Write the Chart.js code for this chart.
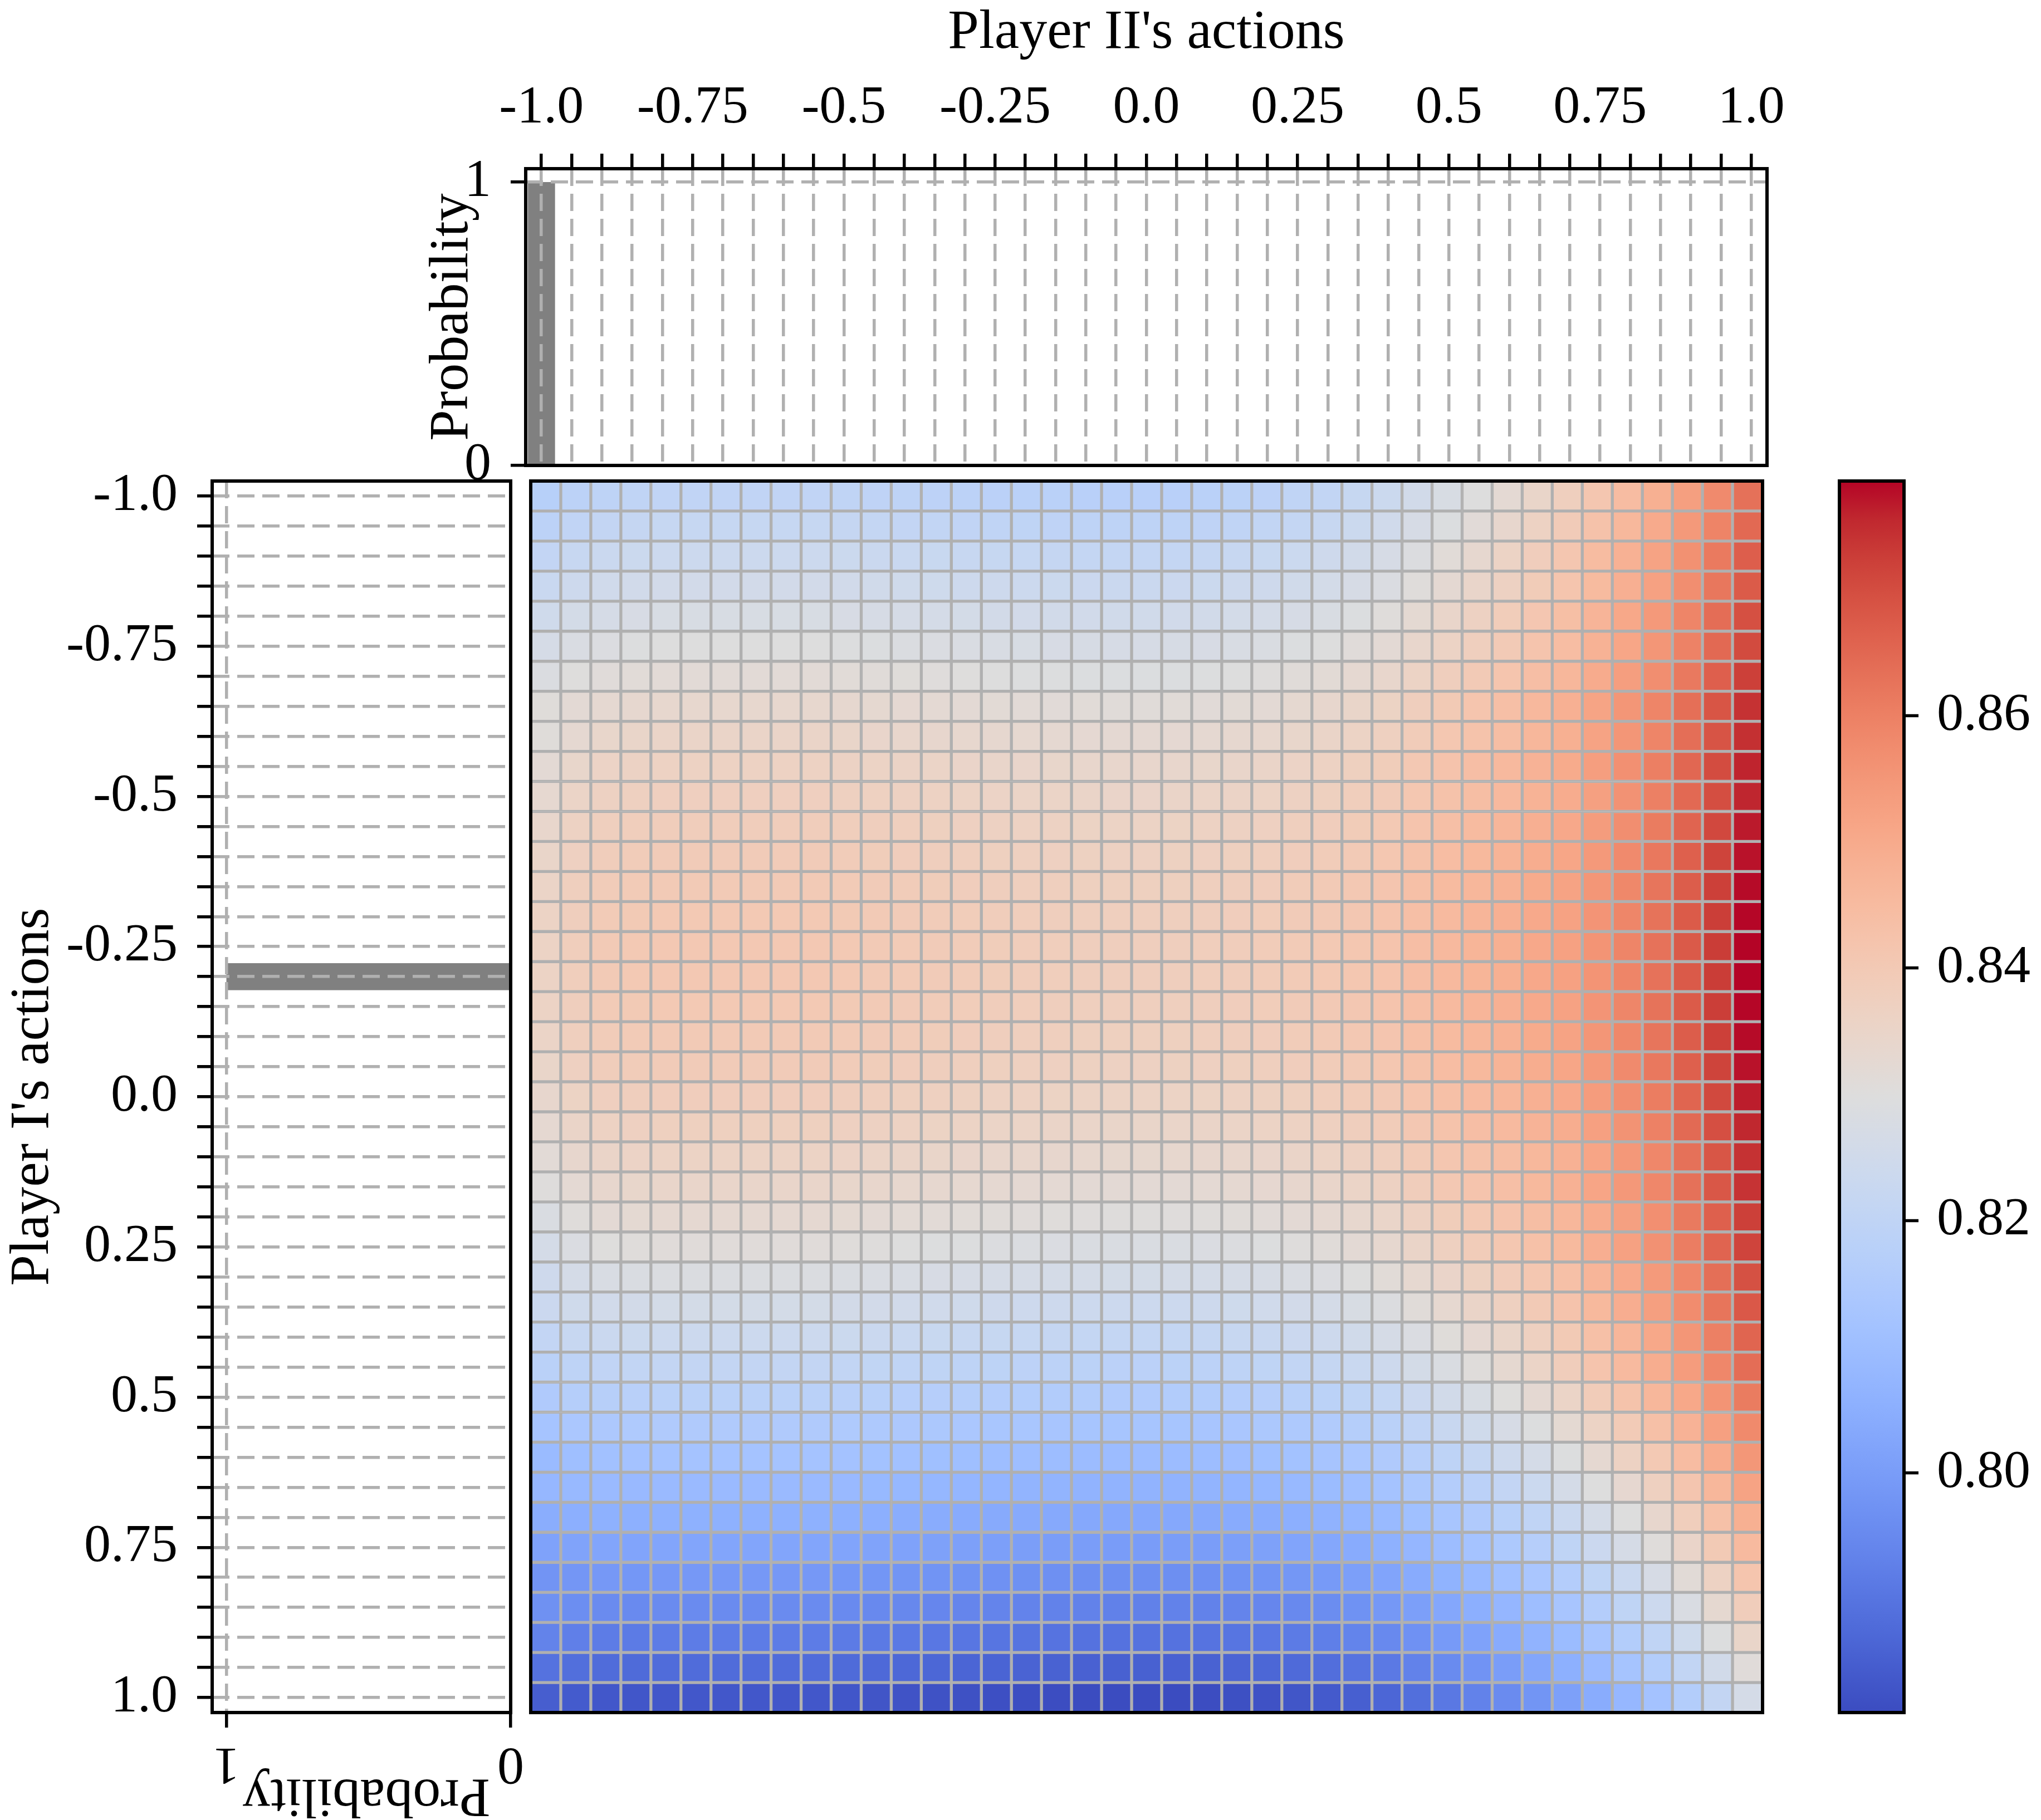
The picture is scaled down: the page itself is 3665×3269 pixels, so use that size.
<!DOCTYPE html>
<html>
<head>
<meta charset="utf-8">
<title>Payoff heatmap with marginal strategies</title>
<script src="https://cdn.jsdelivr.net/npm/chart.js@4.4.1/dist/chart.umd.min.js"></script>
<style>
  html, body { margin: 0; padding: 0; background: #fff; overflow: hidden; }
  #page { position: absolute; left: 0; top: 0; width: 3665px; height: 3269px; background: #fff; }
  .panel { position: absolute; }
  .panel canvas { display: block; }
</style>
</head>
<body>
<div id="page">
<div class="panel" style="left:933px;top:844px;width:2252px;height:2252px"><canvas id="heatChart" width="2252" height="2252"></canvas></div>
<div class="panel" style="left:3280px;top:744px;width:385px;height:2452px"><canvas id="barChart" width="385" height="2452"></canvas></div>
<div class="panel" style="left:0px;top:744px;width:1000px;height:2525px"><canvas id="leftChart" width="1000" height="2525"></canvas></div>
<div class="panel" style="left:700px;top:0px;width:2600px;height:960px"><canvas id="topChart" width="2600" height="960"></canvas></div>
</div>
<script>
// Action grid shared by both players
const actions = [-1.0, -0.95, -0.9, -0.85, -0.8, -0.75, -0.7, -0.65, -0.6, -0.55,
                 -0.5, -0.45, -0.4, -0.35, -0.3, -0.25, -0.2, -0.15, -0.1, -0.05,
                 0.0, 0.05, 0.1, 0.15, 0.2, 0.25, 0.3, 0.35, 0.4, 0.45,
                 0.5, 0.55, 0.6, 0.65, 0.7, 0.75, 0.8, 0.85, 0.9, 0.95, 1.0];
// a label on every fifth action
const actionTickLabels = ['-1.0', '-0.75', '-0.5', '-0.25', '0.0', '0.25', '0.5', '0.75', '1.0'];

// Mixed strategies (probability of each action)
const probPlayerII = [1, 0, 0, 0, 0, 0, 0, 0, 0, 0, 0, 0, 0, 0, 0, 0, 0, 0, 0, 0, 0,
                      0, 0, 0, 0, 0, 0, 0, 0, 0, 0, 0, 0, 0, 0, 0, 0, 0, 0, 0, 0];
const probPlayerI = [0, 0, 0, 0, 0, 0, 0, 0, 0, 0, 0, 0, 0, 0, 0, 0, 1, 0, 0, 0, 0,
                     0, 0, 0, 0, 0, 0, 0, 0, 0, 0, 0, 0, 0, 0, 0, 0, 0, 0, 0, 0];
const probTicks = [0, 1];
const probTickLabels = ['0', '1'];

// Colorbar ticks
const colorbarTicks = [0.80, 0.82, 0.84, 0.86];
const colorbarTickLabels = ['0.80', '0.82', '0.84', '0.86'];

// Payoff: rows = Player I's actions (top to bottom), columns = Player II's actions
const payoff = [
  [0.8174,0.8188,0.8195,0.8200,0.8203,0.8203,0.8203,0.8203,0.8203,0.8203,0.8200,0.8197,0.8194,0.8191,0.8188,0.8185,0.8183,0.8181,0.8179,0.8178,0.8178,0.8179,0.8181,0.8186,0.8191,0.8199,0.8208,0.8220,0.8235,0.8255,0.8277,0.8299,0.8323,0.8348,0.8377,0.8412,0.8446,0.8485,0.8529,0.8578,0.8632],
  [0.8189,0.8203,0.8210,0.8215,0.8218,0.8218,0.8218,0.8218,0.8218,0.8218,0.8215,0.8212,0.8209,0.8206,0.8203,0.8200,0.8198,0.8196,0.8194,0.8193,0.8193,0.8194,0.8196,0.8201,0.8206,0.8214,0.8223,0.8235,0.8250,0.8270,0.8292,0.8314,0.8338,0.8363,0.8392,0.8427,0.8461,0.8500,0.8544,0.8593,0.8647],
  [0.8209,0.8223,0.8230,0.8235,0.8238,0.8238,0.8238,0.8238,0.8238,0.8238,0.8235,0.8232,0.8229,0.8226,0.8223,0.8220,0.8218,0.8216,0.8214,0.8213,0.8213,0.8214,0.8216,0.8221,0.8226,0.8234,0.8243,0.8255,0.8270,0.8290,0.8312,0.8334,0.8358,0.8383,0.8412,0.8447,0.8481,0.8520,0.8564,0.8613,0.8667],
  [0.8228,0.8242,0.8249,0.8254,0.8257,0.8257,0.8257,0.8257,0.8257,0.8257,0.8254,0.8251,0.8248,0.8245,0.8242,0.8239,0.8237,0.8235,0.8233,0.8232,0.8232,0.8233,0.8235,0.8240,0.8244,0.8252,0.8260,0.8271,0.8285,0.8305,0.8326,0.8346,0.8367,0.8391,0.8418,0.8452,0.8486,0.8525,0.8570,0.8619,0.8674],
  [0.8248,0.8262,0.8269,0.8274,0.8277,0.8277,0.8277,0.8277,0.8277,0.8277,0.8274,0.8271,0.8268,0.8265,0.8262,0.8259,0.8257,0.8255,0.8253,0.8252,0.8252,0.8253,0.8255,0.8260,0.8264,0.8272,0.8280,0.8291,0.8305,0.8325,0.8346,0.8366,0.8387,0.8411,0.8438,0.8472,0.8506,0.8545,0.8590,0.8639,0.8694],
  [0.8268,0.8282,0.8289,0.8294,0.8297,0.8297,0.8297,0.8297,0.8297,0.8297,0.8294,0.8291,0.8288,0.8285,0.8282,0.8279,0.8277,0.8275,0.8273,0.8272,0.8272,0.8273,0.8275,0.8279,0.8283,0.8291,0.8299,0.8309,0.8322,0.8341,0.8360,0.8378,0.8398,0.8420,0.8444,0.8478,0.8512,0.8551,0.8596,0.8646,0.8703],
  [0.8287,0.8301,0.8308,0.8313,0.8316,0.8316,0.8316,0.8316,0.8316,0.8316,0.8313,0.8310,0.8307,0.8304,0.8301,0.8298,0.8296,0.8294,0.8292,0.8291,0.8291,0.8292,0.8294,0.8298,0.8302,0.8310,0.8318,0.8328,0.8341,0.8360,0.8379,0.8397,0.8417,0.8439,0.8463,0.8497,0.8531,0.8570,0.8615,0.8665,0.8722],
  [0.8307,0.8321,0.8328,0.8333,0.8336,0.8336,0.8336,0.8336,0.8336,0.8336,0.8333,0.8330,0.8327,0.8324,0.8321,0.8318,0.8316,0.8314,0.8312,0.8311,0.8311,0.8312,0.8314,0.8318,0.8322,0.8330,0.8338,0.8348,0.8361,0.8380,0.8399,0.8417,0.8437,0.8459,0.8483,0.8517,0.8551,0.8590,0.8635,0.8685,0.8742],
  [0.8307,0.8329,0.8343,0.8348,0.8351,0.8351,0.8351,0.8351,0.8351,0.8351,0.8348,0.8345,0.8342,0.8339,0.8336,0.8333,0.8331,0.8329,0.8327,0.8326,0.8326,0.8327,0.8329,0.8333,0.8337,0.8343,0.8351,0.8360,0.8372,0.8390,0.8409,0.8425,0.8442,0.8463,0.8485,0.8518,0.8551,0.8590,0.8637,0.8687,0.8745],
  [0.8321,0.8343,0.8357,0.8362,0.8365,0.8365,0.8365,0.8365,0.8365,0.8365,0.8362,0.8359,0.8356,0.8353,0.8350,0.8347,0.8345,0.8343,0.8341,0.8340,0.8340,0.8341,0.8343,0.8347,0.8351,0.8357,0.8365,0.8374,0.8386,0.8404,0.8423,0.8439,0.8456,0.8477,0.8499,0.8532,0.8565,0.8604,0.8651,0.8701,0.8759],
  [0.8331,0.8353,0.8367,0.8372,0.8375,0.8375,0.8375,0.8375,0.8375,0.8375,0.8372,0.8369,0.8366,0.8363,0.8360,0.8357,0.8355,0.8353,0.8351,0.8350,0.8350,0.8351,0.8353,0.8356,0.8360,0.8366,0.8373,0.8381,0.8392,0.8410,0.8427,0.8441,0.8456,0.8476,0.8495,0.8528,0.8561,0.8600,0.8647,0.8698,0.8757],
  [0.8341,0.8363,0.8377,0.8382,0.8385,0.8385,0.8385,0.8385,0.8385,0.8385,0.8382,0.8379,0.8376,0.8373,0.8370,0.8367,0.8365,0.8363,0.8361,0.8360,0.8360,0.8361,0.8363,0.8366,0.8370,0.8376,0.8383,0.8391,0.8402,0.8420,0.8437,0.8451,0.8466,0.8486,0.8505,0.8538,0.8571,0.8610,0.8657,0.8708,0.8767],
  [0.8348,0.8370,0.8384,0.8389,0.8392,0.8392,0.8392,0.8392,0.8392,0.8392,0.8389,0.8386,0.8383,0.8380,0.8377,0.8374,0.8372,0.8370,0.8368,0.8367,0.8367,0.8368,0.8370,0.8373,0.8377,0.8383,0.8390,0.8398,0.8409,0.8427,0.8444,0.8458,0.8473,0.8493,0.8512,0.8545,0.8578,0.8617,0.8664,0.8715,0.8774],
  [0.8354,0.8376,0.8390,0.8395,0.8398,0.8398,0.8398,0.8398,0.8398,0.8398,0.8395,0.8392,0.8389,0.8386,0.8383,0.8380,0.8378,0.8376,0.8374,0.8373,0.8373,0.8374,0.8376,0.8379,0.8383,0.8389,0.8396,0.8404,0.8415,0.8433,0.8450,0.8464,0.8479,0.8499,0.8518,0.8551,0.8584,0.8623,0.8670,0.8721,0.8780],
  [0.8358,0.8380,0.8394,0.8399,0.8402,0.8402,0.8402,0.8402,0.8402,0.8402,0.8399,0.8396,0.8393,0.8390,0.8387,0.8384,0.8382,0.8380,0.8378,0.8377,0.8377,0.8378,0.8380,0.8383,0.8387,0.8393,0.8400,0.8408,0.8419,0.8437,0.8454,0.8468,0.8483,0.8503,0.8522,0.8555,0.8588,0.8627,0.8674,0.8725,0.8784],
  [0.8360,0.8382,0.8396,0.8401,0.8404,0.8404,0.8404,0.8404,0.8404,0.8404,0.8401,0.8398,0.8395,0.8392,0.8389,0.8386,0.8384,0.8382,0.8380,0.8379,0.8379,0.8380,0.8382,0.8385,0.8389,0.8395,0.8402,0.8410,0.8421,0.8439,0.8456,0.8470,0.8485,0.8505,0.8524,0.8557,0.8590,0.8629,0.8676,0.8727,0.8786],
  [0.8360,0.8382,0.8396,0.8401,0.8404,0.8404,0.8404,0.8404,0.8404,0.8404,0.8401,0.8398,0.8395,0.8392,0.8389,0.8386,0.8384,0.8382,0.8380,0.8379,0.8379,0.8380,0.8382,0.8385,0.8389,0.8395,0.8402,0.8410,0.8421,0.8439,0.8456,0.8470,0.8485,0.8505,0.8524,0.8557,0.8590,0.8629,0.8676,0.8727,0.8786],
  [0.8358,0.8380,0.8394,0.8399,0.8402,0.8402,0.8402,0.8402,0.8402,0.8402,0.8399,0.8396,0.8393,0.8390,0.8387,0.8384,0.8382,0.8380,0.8378,0.8377,0.8377,0.8378,0.8380,0.8383,0.8387,0.8393,0.8400,0.8408,0.8419,0.8437,0.8454,0.8468,0.8483,0.8503,0.8522,0.8555,0.8588,0.8627,0.8674,0.8725,0.8784],
  [0.8354,0.8376,0.8390,0.8395,0.8398,0.8398,0.8398,0.8398,0.8398,0.8398,0.8395,0.8392,0.8389,0.8386,0.8383,0.8380,0.8378,0.8376,0.8374,0.8373,0.8373,0.8374,0.8376,0.8379,0.8383,0.8389,0.8396,0.8404,0.8415,0.8433,0.8450,0.8464,0.8479,0.8499,0.8518,0.8551,0.8584,0.8623,0.8670,0.8721,0.8780],
  [0.8348,0.8370,0.8384,0.8389,0.8392,0.8392,0.8392,0.8392,0.8392,0.8392,0.8389,0.8386,0.8383,0.8380,0.8377,0.8374,0.8372,0.8370,0.8368,0.8367,0.8367,0.8368,0.8370,0.8373,0.8377,0.8383,0.8390,0.8398,0.8409,0.8427,0.8444,0.8458,0.8473,0.8493,0.8512,0.8545,0.8578,0.8617,0.8664,0.8715,0.8774],
  [0.8339,0.8361,0.8375,0.8380,0.8383,0.8383,0.8383,0.8383,0.8383,0.8383,0.8380,0.8377,0.8374,0.8371,0.8368,0.8365,0.8363,0.8361,0.8359,0.8358,0.8358,0.8359,0.8361,0.8364,0.8368,0.8374,0.8381,0.8389,0.8400,0.8418,0.8435,0.8449,0.8464,0.8484,0.8503,0.8536,0.8569,0.8608,0.8655,0.8706,0.8765],
  [0.8329,0.8351,0.8365,0.8370,0.8373,0.8373,0.8373,0.8373,0.8373,0.8373,0.8370,0.8367,0.8364,0.8361,0.8358,0.8355,0.8353,0.8351,0.8349,0.8348,0.8348,0.8349,0.8351,0.8354,0.8358,0.8364,0.8371,0.8379,0.8390,0.8408,0.8425,0.8439,0.8454,0.8474,0.8493,0.8526,0.8559,0.8598,0.8645,0.8696,0.8755],
  [0.8316,0.8338,0.8352,0.8357,0.8360,0.8360,0.8360,0.8360,0.8360,0.8360,0.8357,0.8354,0.8351,0.8348,0.8345,0.8342,0.8340,0.8338,0.8336,0.8335,0.8335,0.8336,0.8338,0.8341,0.8345,0.8351,0.8358,0.8366,0.8377,0.8395,0.8412,0.8426,0.8441,0.8461,0.8480,0.8513,0.8546,0.8585,0.8632,0.8683,0.8742],
  [0.8302,0.8324,0.8338,0.8343,0.8346,0.8346,0.8346,0.8346,0.8346,0.8346,0.8343,0.8340,0.8337,0.8334,0.8331,0.8328,0.8326,0.8324,0.8322,0.8321,0.8321,0.8322,0.8324,0.8328,0.8332,0.8338,0.8346,0.8355,0.8367,0.8385,0.8404,0.8420,0.8437,0.8458,0.8480,0.8513,0.8546,0.8585,0.8632,0.8682,0.8740],
  [0.8284,0.8306,0.8320,0.8325,0.8328,0.8328,0.8328,0.8328,0.8328,0.8328,0.8325,0.8322,0.8319,0.8316,0.8313,0.8310,0.8308,0.8306,0.8304,0.8303,0.8303,0.8304,0.8306,0.8310,0.8314,0.8320,0.8328,0.8337,0.8349,0.8367,0.8386,0.8402,0.8419,0.8440,0.8462,0.8495,0.8528,0.8567,0.8614,0.8664,0.8722],
  [0.8264,0.8286,0.8300,0.8305,0.8308,0.8308,0.8308,0.8308,0.8308,0.8308,0.8305,0.8302,0.8299,0.8296,0.8293,0.8290,0.8288,0.8286,0.8284,0.8283,0.8283,0.8284,0.8286,0.8290,0.8294,0.8302,0.8310,0.8320,0.8333,0.8352,0.8371,0.8389,0.8409,0.8431,0.8455,0.8489,0.8523,0.8562,0.8607,0.8657,0.8714],
  [0.8243,0.8265,0.8279,0.8284,0.8287,0.8287,0.8287,0.8287,0.8287,0.8287,0.8284,0.8281,0.8278,0.8275,0.8272,0.8269,0.8267,0.8265,0.8263,0.8262,0.8262,0.8263,0.8265,0.8269,0.8273,0.8281,0.8289,0.8299,0.8312,0.8331,0.8350,0.8368,0.8388,0.8410,0.8434,0.8468,0.8502,0.8541,0.8586,0.8636,0.8693],
  [0.8233,0.8247,0.8254,0.8259,0.8262,0.8262,0.8262,0.8262,0.8262,0.8262,0.8259,0.8256,0.8253,0.8250,0.8247,0.8244,0.8242,0.8240,0.8238,0.8237,0.8237,0.8238,0.8240,0.8245,0.8249,0.8257,0.8265,0.8276,0.8290,0.8310,0.8331,0.8351,0.8372,0.8396,0.8423,0.8457,0.8491,0.8530,0.8575,0.8624,0.8679],
  [0.8209,0.8223,0.8230,0.8235,0.8238,0.8238,0.8238,0.8238,0.8238,0.8238,0.8235,0.8232,0.8229,0.8226,0.8223,0.8220,0.8218,0.8216,0.8214,0.8213,0.8213,0.8214,0.8216,0.8221,0.8225,0.8233,0.8241,0.8252,0.8266,0.8286,0.8307,0.8327,0.8348,0.8372,0.8399,0.8433,0.8467,0.8506,0.8551,0.8600,0.8655],
  [0.8181,0.8195,0.8202,0.8207,0.8210,0.8210,0.8210,0.8210,0.8210,0.8210,0.8207,0.8204,0.8201,0.8198,0.8195,0.8192,0.8190,0.8188,0.8186,0.8185,0.8185,0.8186,0.8188,0.8193,0.8198,0.8206,0.8215,0.8227,0.8242,0.8262,0.8284,0.8306,0.8330,0.8355,0.8384,0.8419,0.8453,0.8492,0.8536,0.8585,0.8639],
  [0.8152,0.8166,0.8173,0.8178,0.8181,0.8181,0.8181,0.8181,0.8181,0.8181,0.8178,0.8175,0.8172,0.8169,0.8166,0.8163,0.8161,0.8159,0.8157,0.8156,0.8156,0.8157,0.8159,0.8164,0.8169,0.8177,0.8186,0.8198,0.8213,0.8233,0.8255,0.8277,0.8301,0.8326,0.8355,0.8390,0.8424,0.8463,0.8507,0.8556,0.8610],
  [0.8122,0.8136,0.8143,0.8148,0.8151,0.8151,0.8151,0.8151,0.8151,0.8151,0.8148,0.8145,0.8142,0.8139,0.8136,0.8133,0.8131,0.8129,0.8127,0.8126,0.8126,0.8127,0.8129,0.8134,0.8139,0.8147,0.8156,0.8168,0.8183,0.8203,0.8225,0.8247,0.8271,0.8296,0.8325,0.8360,0.8394,0.8433,0.8477,0.8526,0.8580],
  [0.8091,0.8105,0.8112,0.8117,0.8120,0.8120,0.8120,0.8120,0.8120,0.8120,0.8117,0.8114,0.8111,0.8108,0.8105,0.8102,0.8100,0.8098,0.8096,0.8095,0.8095,0.8096,0.8098,0.8103,0.8108,0.8116,0.8125,0.8137,0.8152,0.8172,0.8194,0.8216,0.8240,0.8265,0.8294,0.8329,0.8363,0.8402,0.8446,0.8495,0.8549],
  [0.8079,0.8084,0.8089,0.8086,0.8089,0.8089,0.8089,0.8089,0.8089,0.8089,0.8086,0.8083,0.8080,0.8077,0.8074,0.8071,0.8069,0.8067,0.8065,0.8064,0.8064,0.8065,0.8067,0.8072,0.8077,0.8085,0.8094,0.8106,0.8121,0.8141,0.8163,0.8185,0.8209,0.8234,0.8263,0.8298,0.8332,0.8371,0.8415,0.8464,0.8518],
  [0.8046,0.8051,0.8056,0.8053,0.8056,0.8056,0.8056,0.8056,0.8056,0.8056,0.8053,0.8050,0.8047,0.8044,0.8041,0.8038,0.8036,0.8034,0.8032,0.8031,0.8031,0.8032,0.8034,0.8039,0.8044,0.8052,0.8061,0.8073,0.8088,0.8108,0.8130,0.8152,0.8176,0.8201,0.8230,0.8265,0.8299,0.8338,0.8382,0.8431,0.8485],
  [0.8014,0.8019,0.8024,0.8021,0.8024,0.8024,0.8024,0.8024,0.8024,0.8024,0.8021,0.8018,0.8015,0.8012,0.8009,0.8006,0.8004,0.8002,0.8000,0.7999,0.7999,0.8000,0.8002,0.8007,0.8012,0.8020,0.8029,0.8041,0.8056,0.8076,0.8098,0.8120,0.8144,0.8169,0.8198,0.8233,0.8267,0.8306,0.8350,0.8399,0.8453],
  [0.7979,0.7984,0.7989,0.7986,0.7989,0.7989,0.7989,0.7989,0.7989,0.7989,0.7986,0.7983,0.7980,0.7977,0.7974,0.7971,0.7969,0.7967,0.7965,0.7964,0.7964,0.7965,0.7967,0.7972,0.7977,0.7985,0.7994,0.8006,0.8021,0.8041,0.8063,0.8085,0.8109,0.8134,0.8163,0.8198,0.8232,0.8271,0.8315,0.8364,0.8418],
  [0.7970,0.7962,0.7955,0.7952,0.7955,0.7955,0.7955,0.7955,0.7955,0.7955,0.7952,0.7949,0.7946,0.7943,0.7940,0.7937,0.7935,0.7933,0.7931,0.7930,0.7930,0.7931,0.7933,0.7938,0.7943,0.7951,0.7960,0.7972,0.7987,0.8007,0.8029,0.8051,0.8075,0.8100,0.8129,0.8164,0.8198,0.8237,0.8281,0.8330,0.8384],
  [0.7934,0.7926,0.7919,0.7916,0.7919,0.7919,0.7919,0.7919,0.7919,0.7919,0.7916,0.7913,0.7910,0.7907,0.7904,0.7901,0.7899,0.7897,0.7895,0.7894,0.7894,0.7895,0.7897,0.7902,0.7907,0.7915,0.7924,0.7936,0.7951,0.7971,0.7993,0.8015,0.8039,0.8064,0.8093,0.8128,0.8162,0.8201,0.8245,0.8294,0.8348],
  [0.7895,0.7887,0.7880,0.7877,0.7880,0.7880,0.7880,0.7880,0.7880,0.7880,0.7877,0.7874,0.7871,0.7868,0.7865,0.7862,0.7860,0.7858,0.7856,0.7855,0.7855,0.7856,0.7858,0.7863,0.7868,0.7876,0.7885,0.7897,0.7912,0.7932,0.7954,0.7976,0.8000,0.8025,0.8054,0.8089,0.8123,0.8162,0.8206,0.8255,0.8309],
  [0.7850,0.7842,0.7835,0.7832,0.7835,0.7835,0.7835,0.7835,0.7835,0.7835,0.7832,0.7829,0.7826,0.7823,0.7820,0.7817,0.7815,0.7813,0.7811,0.7810,0.7810,0.7811,0.7813,0.7818,0.7823,0.7831,0.7840,0.7852,0.7867,0.7887,0.7909,0.7931,0.7955,0.7980,0.8009,0.8044,0.8078,0.8117,0.8161,0.8210,0.8264]
];

// coolwarm colormap control points (33 evenly spaced stops)
const coolwarmStops = [
  [59,76,192], [68,90,204], [77,104,215], [87,117,225], [98,130,234], [108,142,241],
  [119,154,247], [130,165,251], [141,176,254], [152,185,255], [163,194,255], [174,201,253],
  [184,208,249], [194,213,244], [204,217,238], [213,219,230], [221,221,221], [229,216,209],
  [236,211,197], [241,204,185], [245,196,173], [247,187,160], [247,177,148], [247,166,135],
  [244,154,123], [241,141,111], [236,127,99], [229,112,88], [222,96,77], [213,80,66],
  [203,62,56], [192,40,47], [180,4,38]
];

const GRID_COLOR = '#b0b0b0';
const GRID_DASH = [31, 14];
const BAR_COLOR = 'gray';

Chart.defaults.font.family = "'Liberation Serif', 'Times New Roman', serif";
Chart.defaults.font.size = 96;
Chart.defaults.color = '#000';

const vmin = Math.min(...payoff.flat());
const vmax = Math.max(...payoff.flat());
const halfStep = (actions[1] - actions[0]) / 2;

function coolwarm(t) {
    t = Math.min(1, Math.max(0, t));
    const n = coolwarmStops.length - 1;
    const p = t * n;
    const i = Math.min(n - 1, Math.floor(p));
    const f = p - i;
    const a = coolwarmStops[i], b = coolwarmStops[i + 1];
    const rgb = [0, 1, 2].map(k => Math.round(a[k] + (b[k] - a[k]) * f));
    return `rgb(${rgb.join(',')})`;
}

function actionLabel(value, index) {
    return index % 5 === 0 ? actionTickLabels[index / 5] : '';
}

// black box round each plot area, like matplotlib spines
const framePlugin = {
    id: 'frame',
    afterDraw(chart) {
        const { ctx, chartArea: a } = chart;
        ctx.save();
        ctx.strokeStyle = '#000';
        ctx.lineWidth = 6;
        ctx.strokeRect(a.left, a.top, a.right - a.left, a.bottom - a.top);
        ctx.restore();
    }
};

// the left marginal's probability axis is printed upside down
const flippedAxisText = {
    id: 'flippedAxisText',
    afterDraw(chart) {
        const { ctx, chartArea: a } = chart;
        const xs = chart.scales.x;
        ctx.save();
        ctx.fillStyle = '#000';
        ctx.textAlign = 'center';
        ctx.textBaseline = 'middle';
        ctx.font = "96px 'Liberation Serif'";
        probTicks.forEach((v, i) => {
            ctx.save();
            ctx.translate(xs.getPixelForValue(v), a.bottom + 90);
            ctx.rotate(Math.PI);
            ctx.fillText(probTickLabels[i], 0, 0);
            ctx.restore();
        });
        ctx.font = "100px 'Liberation Serif'";
        ctx.translate((a.left + a.right) / 2 + 9, a.bottom + 147);
        ctx.rotate(Math.PI);
        ctx.fillText('Probability', 0, 0);
        ctx.restore();
    }
};

const dashedGrid = {
    offset: false, color: GRID_COLOR, lineWidth: 5.5,
    tickLength: 27, tickWidth: 5.5, tickColor: '#000', tickBorderDash: [], z: 1
};

// ---- Heatmap ----
const heatDatasets = payoff.map((row, r) => ({
    data: row.map(() => [actions[r] - halfStep, actions[r] + halfStep]),
    backgroundColor: row.map(v => coolwarm((v - vmin) / (vmax - vmin))),
    borderColor: GRID_COLOR,
    borderWidth: 3,
    borderSkipped: false,
    grouped: false,
    barPercentage: 1.0,
    categoryPercentage: 1.0
}));

new Chart(document.getElementById('heatChart'), {
    type: 'bar',
    data: { labels: actions, datasets: heatDatasets },
    options: {
        responsive: false, animation: false,
        layout: { padding: 20 },
        plugins: { legend: { display: false }, tooltip: { enabled: false } },
        scales: {
            x: { display: false },
            y: { display: false, min: -1.025, max: 1.025, reverse: true }
        }
    },
    plugins: [framePlugin]
});

// ---- Colorbar ----
function colorbarGradient(chart) {
    if (!chart.chartArea) return null;
    const ys = chart.scales.y;
    const g = chart.ctx.createLinearGradient(0, ys.getPixelForValue(vmin), 0, ys.getPixelForValue(vmax));
    coolwarmStops.forEach((c, i) => g.addColorStop(i / (coolwarmStops.length - 1), `rgb(${c.join(',')})`));
    return g;
}

new Chart(document.getElementById('barChart'), {
    type: 'bar',
    data: {
        labels: [''],
        datasets: [{
            data: [[vmin, vmax]],
            backgroundColor: (ctx) => colorbarGradient(ctx.chart),
            borderWidth: 0, barPercentage: 1.0, categoryPercentage: 1.0
        }]
    },
    options: {
        responsive: false, animation: false,
        // the axis box must be wide enough: Chart.js clips tick labels to it
        layout: { padding: { left: 23, top: 120, bottom: 120, right: 6 } },
        plugins: { legend: { display: false }, tooltip: { enabled: false } },
        scales: {
            x: { display: false },
            y: {
                position: 'right', min: vmin, max: vmax, bounds: 'data',
                afterBuildTicks: (s) => { s.ticks = colorbarTicks.map(v => ({ value: v })); },
                afterFit: (s) => { s.width = 240; },
                ticks: { padding: 33, font: { size: 96 }, color: '#000', callback: (v, i) => colorbarTickLabels[i] },
                grid: { drawOnChartArea: false, tickLength: 26, tickWidth: 5.5, tickColor: '#000' },
                border: { display: false }
            }
        }
    },
    plugins: [framePlugin]
});

// ---- Player I's marginal (left) ----
new Chart(document.getElementById('leftChart'), {
    type: 'bar',
    data: {
        datasets: [{
            data: actions.map((a, i) => ({ x: probPlayerI[i], y: a })),
            backgroundColor: BAR_COLOR, barPercentage: 0.9, categoryPercentage: 1.0
        }]
    },
    options: {
        indexAxis: 'y',
        responsive: false, animation: false,
        layout: { padding: { left: 0, top: 120, right: 83, bottom: 0 } },
        plugins: { legend: { display: false }, tooltip: { enabled: false } },
        scales: {
            y: {
                type: 'linear', min: -1.025, max: 1.025, reverse: true, offset: false, bounds: 'data',
                afterBuildTicks: (s) => { s.ticks = actions.map(v => ({ value: v })); },
                afterFit: (s) => { s.width = 381; },
                ticks: { autoSkip: false, padding: 35, font: { size: 96 }, color: '#000', callback: actionLabel },
                grid: dashedGrid,
                border: { display: false, dash: GRID_DASH },
                title: { display: true, text: "Player I's actions", font: { size: 100 }, color: '#000', padding: { top: 0, bottom: 0 } }
            },
            x: {
                type: 'linear', min: 0, max: 1.05, reverse: true, bounds: 'data',
                afterBuildTicks: (s) => { s.ticks = probTicks.map(v => ({ value: v })); },
                afterFit: (s) => { s.height = 193; },
                ticks: { display: false },
                grid: dashedGrid,
                border: { display: false, dash: GRID_DASH }
            }
        }
    },
    plugins: [framePlugin, flippedAxisText]
});

// ---- Player II's marginal (top) ----
new Chart(document.getElementById('topChart'), {
    type: 'bar',
    data: {
        datasets: [{
            data: actions.map((a, i) => ({ x: a, y: probPlayerII[i] })),
            backgroundColor: BAR_COLOR, barPercentage: 0.9, categoryPercentage: 1.0
        }]
    },
    options: {
        responsive: false, animation: false,
        layout: { padding: { left: 0, top: 0, right: 127, bottom: 124 } },
        plugins: { legend: { display: false }, tooltip: { enabled: false } },
        scales: {
            x: {
                type: 'linear', position: 'top', min: -1.026, max: 1.026, offset: false, bounds: 'data',
                afterBuildTicks: (s) => { s.ticks = actions.map(v => ({ value: v })); },
                afterFit: (s) => { s.height = 303; },
                ticks: { autoSkip: false, maxRotation: 0, minRotation: 0, padding: 24, font: { size: 96 }, color: '#000', callback: actionLabel },
                grid: dashedGrid,
                border: { display: false, dash: GRID_DASH },
                title: { display: true, text: "Player II's actions", font: { size: 100 }, color: '#000', padding: { top: 0, bottom: 0 } }
            },
            y: {
                type: 'linear', min: 0, max: 1.047, bounds: 'data',
                afterBuildTicks: (s) => { s.ticks = probTicks.map(v => ({ value: v })); },
                afterFit: (s) => { s.width = 244; },
                ticks: { padding: 35, font: { size: 96 }, color: '#000', callback: (v, i) => probTickLabels[i] },
                grid: dashedGrid,
                border: { display: false, dash: GRID_DASH },
                title: { display: true, text: 'Probability', font: { size: 100 }, color: '#000', padding: { top: 53, bottom: 0 } }
            }
        }
    },
    plugins: [framePlugin]
});
</script>
</body>
</html>
